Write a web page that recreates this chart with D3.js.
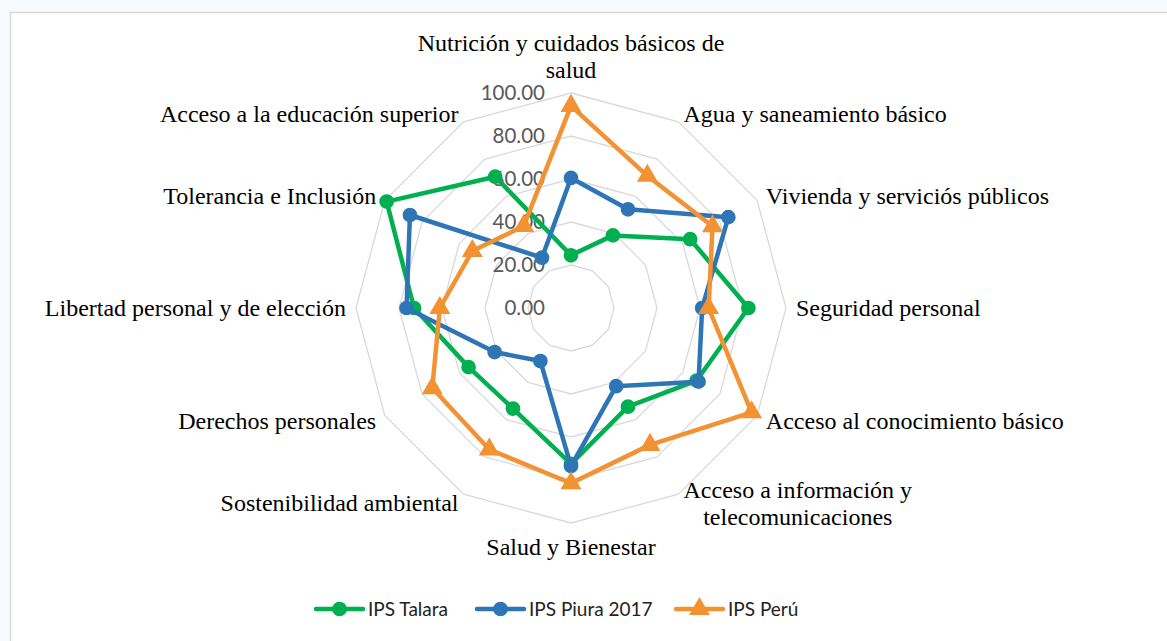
<!DOCTYPE html>
<html>
<head>
<meta charset="utf-8">
<script src="https://cdn.jsdelivr.net/npm/d3@7"></script>
<style>
  body { margin: 0; background: #f7fbfd; }
  svg { display: block; }
</style>
</head>
<body>
<div id="chart"></div>
<script>
// categories (clockwise from the top)
var categories = [
  "Nutrición y cuidados básicos de|salud",
  "Agua y saneamiento básico",
  "Vivienda y serviciós públicos",
  "Seguridad personal",
  "Acceso al conocimiento básico",
  "Acceso a información y|telecomunicaciones",
  "Salud y Bienestar",
  "Sostenibilidad ambiental",
  "Derechos personales",
  "Libertad personal y de elección",
  "Tolerancia e Inclusión",
  "Acceso a la educación superior"
];
var talara = [24.5, 39, 64, 82.5, 67.5, 53, 72.5, 54, 55, 73, 99, 70.5];
var piura  = [60.5, 53, 84.5, 61, 68.5, 42, 73.5, 28.5, 41, 76.5, 86.5, 27];
var peru   = [94, 71, 76, 64, 97, 73.5, 81.5, 76, 74.5, 61, 53, 44];
var ticks  = [0, 20, 40, 60, 80, 100];
var seriesNames = ["IPS Talara", "IPS Piura 2017", "IPS Perú"];

var W = 1167, H = 641;
var cx = 571, cy = 308, R = 215;

var svg = d3.select("#chart").append("svg")
    .attr("width", W)
    .attr("height", H);

// chart frame
svg.append("rect")
    .attr("x", 10.5).attr("y", 12.5)
    .attr("width", W + 20).attr("height", H + 20)
    .attr("fill", "#fff")
    .attr("stroke", "#d9d9d9")
    .attr("stroke-width", 1.5);

var g = svg.append("g").attr("transform", "translate(" + cx + "," + cy + ")");

var r = d3.scaleLinear().domain([0, 100]).range([0, R]);
var angle = d3.scaleLinear().domain([0, categories.length]).range([0, 2 * Math.PI]);

function pt(i, v) {
  var a = angle(i);
  return [r(v) * Math.sin(a), -r(v) * Math.cos(a)];
}

// grid polygons
g.append("g").selectAll("polygon")
  .data(ticks.filter(function(t) { return t > 0; }))
  .enter().append("polygon")
    .attr("points", function(t) {
      return categories.map(function(c, i) { return pt(i, t).join(","); }).join(" ");
    })
    .attr("fill", "none")
    .attr("stroke", "#d9d9d9")
    .attr("stroke-width", 1.3);

// value labels
g.append("g").selectAll("text")
  .data(ticks)
  .enter().append("text")
    .attr("x", -26)
    .attr("y", function(t) { return -r(t); })
    .attr("dy", "0.35em")
    .attr("text-anchor", "end")
    .attr("font-family", "Lato, 'Open Sans', sans-serif")
    .attr("font-size", 20.5)
    .attr("fill", "#595959")
    .text(function(t) { return d3.format(".2f")(t); });

// category labels
var lineH = 27;
categories.forEach(function(c, i) {
  var a = angle(i);
  var s = Math.sin(a), co = Math.cos(a);
  var lines = c.split("|");
  var x = (R + 10) * s, y = -(R + 10) * co;
  var blockH = lines.length * lineH;
  var top;
  if (Math.abs(s) < 0.01) {
    top = co > 0 ? y - blockH : y;
  } else {
    top = y - blockH / 2;
  }
  var anchor = Math.abs(s) < 0.01 ? "middle" : (s > 0 ? "start" : "end");
  var t = g.append("text")
      .attr("font-family", "'Liberation Serif', 'Times New Roman', serif")
      .attr("font-size", 24)
      .attr("fill", "#000")
      .attr("text-anchor", lines.length > 1 ? "middle" : anchor);
  var spans = lines.map(function(l, k) {
    return t.append("tspan")
      .attr("x", x)
      .attr("y", top + lineH * k + lineH / 2)
      .attr("dy", "0.35em")
      .text(l);
  });
  if (lines.length > 1 && anchor !== "middle") {
    var maxW = d3.max(spans, function(sp) { return sp.node().getComputedTextLength(); });
    var mx = anchor === "start" ? x + maxW / 2 : x - maxW / 2;
    spans.forEach(function(sp) { sp.attr("x", mx); });
  }
});

// series
var series = [
  { name: seriesNames[0], values: talara, color: "#00b050", marker: "circle" },
  { name: seriesNames[1], values: piura,  color: "#2e75b6", marker: "circle" },
  { name: seriesNames[2], values: peru,   color: "#f39233", marker: "triangle" }
];

var line = d3.lineRadial()
    .angle(function(d, i) { return angle(i); })
    .radius(function(d) { return r(d); })
    .curve(d3.curveLinearClosed);

var circleSym = d3.symbol().type(d3.symbolCircle).size(170);
var triSym = d3.symbol().type(d3.symbolTriangle).size(190);

series.forEach(function(s) {
  var sg = g.append("g");
  sg.append("path")
    .attr("d", line(s.values))
    .attr("fill", "none")
    .attr("stroke", s.color)
    .attr("stroke-width", 4.5)
    .attr("stroke-linejoin", "round");
  sg.selectAll("path.m")
    .data(s.values)
    .enter().append("path")
      .attr("class", "m")
      .attr("transform", function(d, i) { return "translate(" + pt(i, d).join(",") + ")"; })
      .attr("d", s.marker === "circle" ? circleSym() : triSym())
      .attr("fill", s.color);
});

// legend
var legendX = [316, 477, 676];
var legend = svg.append("g").attr("transform", "translate(0,609)");
series.forEach(function(s, i) {
  var lg = legend.append("g").attr("transform", "translate(" + legendX[i] + ",0)");
  lg.append("line")
    .attr("x1", 0).attr("x2", 47)
    .attr("stroke", s.color)
    .attr("stroke-width", 4.5)
    .attr("stroke-linecap", "round");
  lg.append("path")
    .attr("transform", "translate(23.5,0)")
    .attr("d", s.marker === "circle" ? circleSym() : triSym())
    .attr("fill", s.color);
  lg.append("text")
    .attr("x", 52)
    .attr("dy", "0.35em")
    .attr("font-family", "Lato, 'Open Sans', sans-serif")
    .attr("font-size", 19)
    .attr("fill", "#222")
    .text(s.name);
});
</script>
</body>
</html>
